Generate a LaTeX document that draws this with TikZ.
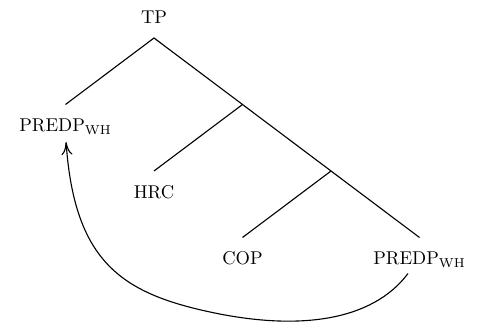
\documentclass[tikz,border=0pt]{standalone}
\usetikzlibrary{arrows.meta}
\begin{document}
\begin{tikzpicture}[x=0.54pt,y=-0.54pt,
  cat/.style={inner xsep=1pt,inner ysep=7.5pt},
  branch/.style={line width=0.6pt},
  move/.style={line width=0.6pt,-{Computer Modern Rightarrow[length=7pt,width=6pt]}}]
  \useasboundingbox (0,0) rectangle (477,324);
  % tree
  \node[cat,anchor=south] (tp) at (154,38) {TP};
  \node[cat,anchor=north] (predwh) at (65.5,104.5) {PREDP\textsubscript{WH}};
  \coordinate (t1) at (242.5,104.5);
  \node[cat,anchor=north] (hrc) at (154,171) {HRC};
  \coordinate (t2) at (331,171);
  \node[cat,anchor=north] (cop) at (242.5,237.5) {COP};
  \node[cat,anchor=north] (predlow) at (419.5,237.5) {PREDP\textsubscript{WH}};
  \draw[branch] (predwh.north) -- (tp.south) -- (t1) -- (t2) -- (predlow.north);
  \draw[branch] (t1) -- (hrc.north);
  \draw[branch] (t2) -- (cop.north);
  % movement
  \coordinate (via) at (210,312);
  \draw[move] ([xshift=-6.2pt,yshift=-4.9pt]predlow.base) .. controls +(-36,48) and +(88,19) .. (via)
    .. controls +(-88,-19) and +(8.4,120) .. ([xshift=0.3pt,yshift=-5.7pt]predwh.base);
\end{tikzpicture}
\end{document}
